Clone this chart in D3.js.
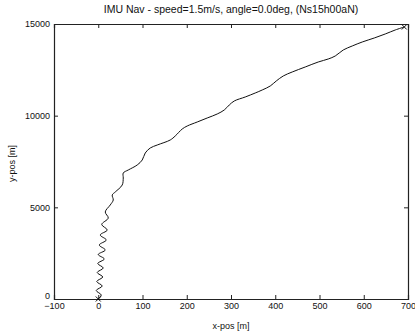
<!DOCTYPE html>
<html>
<head>
<meta charset="utf-8">
<script src="https://cdn.jsdelivr.net/npm/d3@7"></script>
<style>
  body { margin: 0; background: #fff; }
  text { font-family: 'Liberation Sans', Arial, sans-serif; fill: #111; }
</style>
</head>
<body>
<div id="chart"></div>
<script>
// trajectory (metres)
const xPos = [0, 6.8, -4.5, 9, -3.4, 10.2, -2.3, 11.3, -1.1, 13.6, 0, 15.8, 2.3, 18.1, 4.5, 20.3, 7.9, 22.6, 15.8, 27.1, 33.9,
  31.6, 38.4, 54.2, 56.5, 56.5, 67.8, 88.1, 99.4, 106.2, 117.5, 133.3, 162.7, 174, 189.8, 201.1, 223.7, 246.3, 268.9, 284.8, 296.1,
  307.4, 332.2, 354.8, 370.6, 388.7, 402.3, 418.1, 438.4, 467.8, 497.2, 519.8, 535.6, 553.7, 574, 596.6, 623.8, 648.6, 671.2, 691.6]
const yPos = [0, 218, 464, 709, 955, 1200, 1446, 1691, 1936, 2182, 2427, 2673, 2946, 3218, 3491, 3764, 4064, 4418, 4746, 5128, 5400,
  5673, 5837, 6219, 6600, 6873, 7037, 7310, 7582, 7964, 8237, 8400, 8673, 8892, 9274, 9437, 9655, 9874, 10092, 10310, 10583,
  10801, 11019, 11237, 11401, 11619, 11892, 12165, 12383, 12656, 12928, 13092, 13256, 13583, 13801, 14019, 14237, 14456, 14674, 14837]

const xTicks = [-100, 0, 100, 200, 300, 400, 500, 600, 700]
const yTicks = [0, 5000, 10000, 15000]
const title = 'IMU Nav - speed=1.5m/s, angle=0.0deg, (Ns15h00aN)'

const margin = { top: 24, left: 54, right: 7, bottom: 35 }
const width = 415 - margin.left - margin.right
const height = 334 - margin.top - margin.bottom

const svg = d3
  .select('#chart')
  .append('svg')
  .attr('width', 415)
  .attr('height', 334)
  .append('g')
  .attr('transform', 'translate(' + margin.left + ',' + margin.top + ')')

const x = d3.scaleLinear().domain([-100, 700]).range([0, width])
const y = d3.scaleLinear().domain([0, 15000]).range([height, 0])

const points = xPos.map((d, i) => [d, yPos[i]])

// axes, matlab style ticks pointing in
svg.append('g')
  .attr('transform', 'translate(0,' + height + ')')
  .call(d3.axisBottom(x).tickValues(xTicks).tickSize(-4).tickPadding(4).tickFormat(d3.format('d')))
svg.append('g')
  .call(d3.axisTop(x).tickValues(xTicks).tickSize(-4).tickFormat(''))
const yAxis = svg.append('g')
  .call(d3.axisLeft(y).tickValues(yTicks).tickSize(-4).tickPadding(4).tickFormat(d3.format('d')))
svg.append('g')
  .attr('transform', 'translate(' + width + ',0)')
  .call(d3.axisRight(y).tickValues(yTicks).tickSize(-4).tickFormat(''))

svg.selectAll('.domain').attr('stroke', '#222').attr('stroke-width', 1.2)
svg.selectAll('.tick line').attr('stroke', '#222')
svg.selectAll('.tick text').attr('font-size', 9).attr('fill', '#111')
// the "0" label sits just above "-100" like in the original
yAxis.selectAll('.tick text').filter(d => d === 0).attr('dy', '-0.05em')

const line = d3.line()
  .x(d => x(d[0]))
  .y(d => y(d[1]))
  .curve(d3.curveCatmullRom)

svg.append('path')
  .datum(points)
  .attr('d', line)
  .attr('fill', 'none')
  .attr('stroke', '#111')
  .attr('stroke-width', 1)

// start and end markers
const ends = [points[0], points[points.length - 1]]
svg.selectAll('.mark')
  .data(ends)
  .enter()
  .append('path')
  .attr('class', 'mark')
  .attr('d', 'M-2.5,-2.5L2.5,2.5M-2.5,2.5L2.5,-2.5')
  .attr('transform', d => `translate(${x(d[0])},${y(d[1])})`)
  .attr('stroke', '#111')
  .attr('fill', 'none')

svg.append('text')
  .attr('x', width / 2)
  .attr('y', -11)
  .attr('text-anchor', 'middle')
  .attr('font-size', 10.5)
  .text(title)

svg.append('text')
  .attr('x', width / 2)
  .attr('y', height + 30)
  .attr('text-anchor', 'middle')
  .attr('font-size', 9)
  .text('x-pos [m]')

svg.append('text')
  .attr('transform', 'translate(-39,' + (height / 2 + 2) + ') rotate(-90)')
  .attr('text-anchor', 'middle')
  .attr('font-size', 9)
  .text('y-pos [m]')
</script>
</body>
</html>
